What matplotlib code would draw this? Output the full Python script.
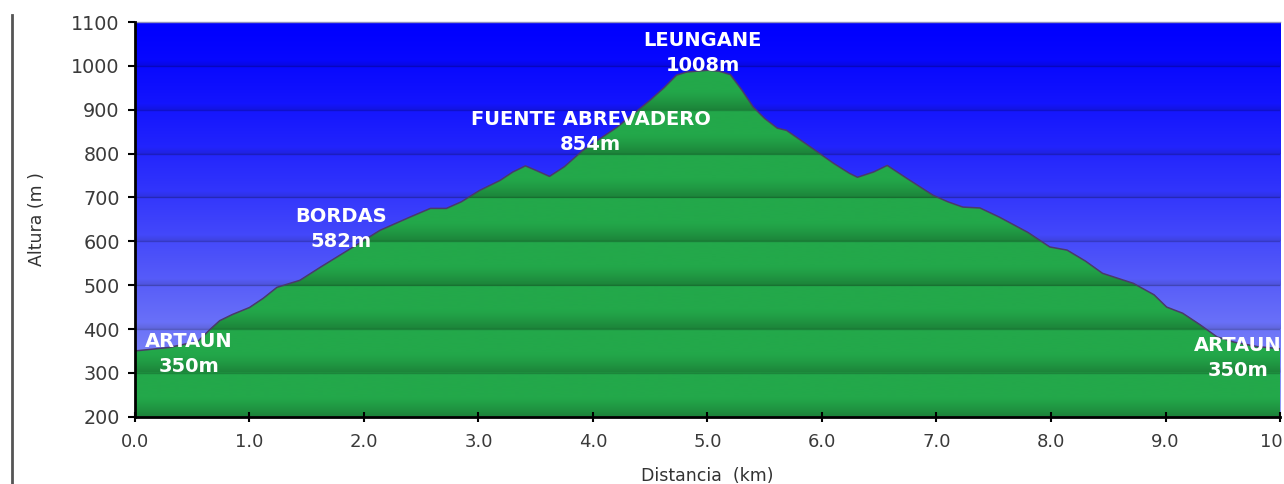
import numpy as np
import matplotlib
matplotlib.use("Agg")
import matplotlib.pyplot as plt
from matplotlib.lines import Line2D

# perfil (km, m)
dist = [0.0, 0.3, 0.55, 0.66, 0.74, 0.85, 1.0, 1.12, 1.24, 1.44, 1.62, 1.85, 2.14, 2.4, 2.58, 2.72,
        2.85, 3.01, 3.19, 3.3, 3.41, 3.5, 3.62, 3.75, 3.91, 4.05, 4.21, 4.35, 4.5, 4.62, 4.73, 4.82,
        5.0, 5.1, 5.2, 5.3, 5.4, 5.5, 5.61, 5.69, 5.9, 6.1, 6.24, 6.31, 6.45, 6.57, 6.75, 6.97,
        7.1, 7.23, 7.38, 7.55, 7.8, 7.99, 8.14, 8.3, 8.45, 8.72, 8.9, 9.01, 9.15, 9.3, 9.45,
        9.6, 9.8, 10.0]
alt = [350, 358, 372, 400, 419, 433, 449, 470, 495, 511, 541, 578, 625, 655, 675, 675,
       690, 716, 739, 758, 772, 762, 748, 770, 807, 832, 860, 890, 922, 950, 979, 986,
       990, 988, 980, 945, 906, 880, 858, 853, 815, 778, 755, 746, 758, 773, 742, 705,
       690, 678, 676, 655, 620, 587, 580, 555, 527, 504, 478, 450, 436, 410, 382,
       370, 360, 355]

labels = ["LEUNGANE\n1008m", "FUENTE ABREVADERO\n854m", "BORDAS\n582m", "ARTAUN\n350m", "ARTAUN\n350m"]
lab_x = [4.96, 3.98, 1.80, 0.47, 9.63]
lab_y = [1029, 849, 629, 344, 334]

fig = plt.figure(figsize=(12.84, 4.84), dpi=100)
ax = fig.add_axes([0.1051, 0.139, 0.8918, 0.8155])

ymin, ymax = 200, 1100
ax.set_xlim(0, 10)
ax.set_ylim(ymin, ymax)

# fondo azul degradado
yy = np.linspace(ymax, ymin, 400)
t = (ymax - yy) / (ymax - ymin)
top = np.array([0, 0, 255]) / 255
bot = np.array([150, 160, 245]) / 255
t2 = t ** 1.3
sky = top[None, :] * (1 - t2[:, None]) + bot[None, :] * t2[:, None]
# sombra ligera sobre cada linea de rejilla
frac = ((yy - ymin) % 100) / 100
shade = 1 - 0.12 * np.clip((0.15 - frac) / 0.15, 0, 1)
sky = sky * shade[:, None]
ax.imshow(sky[:, None, :], extent=[0, 10, ymin, ymax], aspect="auto", zorder=0, interpolation="bilinear")

# verde con bandas
light = np.array([35, 168, 74]) / 255
dark = np.array([28, 130, 57]) / 255
k = np.clip((0.45 - frac) / 0.45, 0, 1) ** 1.3
green = light[None, :] * (1 - k[:, None]) + dark[None, :] * k[:, None]
im = ax.imshow(green[:, None, :], extent=[0, 10, ymin, ymax], aspect="auto", zorder=1, interpolation="bilinear")
poly = ax.fill_between(dist, alt, ymin, color="none", lw=0)
im.set_clip_path(poly.get_paths()[0], transform=ax.transData)

# rejilla
for v in range(300, 1100, 100):
    ax.axhline(v, color="black", alpha=0.2, lw=1, zorder=2)

ax.plot(dist, alt, color="#4a3a6a", lw=1.1, zorder=3)

for s, x, y in zip(labels, lab_x, lab_y):
    ax.text(x, y, s, color="white", fontsize=14, fontweight="bold", ha="center", va="center",
            linespacing=1.4, zorder=5, clip_on=False)

ax.set_xticks(np.arange(0, 10.01, 1))
ax.set_xticklabels([f"{v:.1f}" for v in np.arange(0, 10.01, 1)])
ax.set_yticks(range(200, 1101, 100))
ax.tick_params(axis="both", labelsize=13, color="black", labelcolor="#3a3a3a", length=5, width=1.5)
ax.tick_params(axis="y", pad=6, labelsize=13.8)
ax.tick_params(axis="x", direction="inout", length=7, pad=8)

for side in ["left", "bottom"]:
    ax.spines[side].set_linewidth(2)
    ax.spines[side].set_color("black")
    ax.spines[side].set_zorder(6)
ax.spines["right"].set_visible(False)
ax.spines["top"].set_color("#9090c0")
ax.spines["top"].set_linewidth(1)

ax.set_xlabel("Distancia  (km)", fontsize=12.5, color="#333333", labelpad=12)
ax.set_ylabel("Altura (m )", fontsize=12.5, color="#333333", labelpad=18)

fig.add_artist(Line2D([0.0095, 0.0095], [0, 0.97], color="#555555", lw=2))

fig.savefig("out.png", dpi=100)
